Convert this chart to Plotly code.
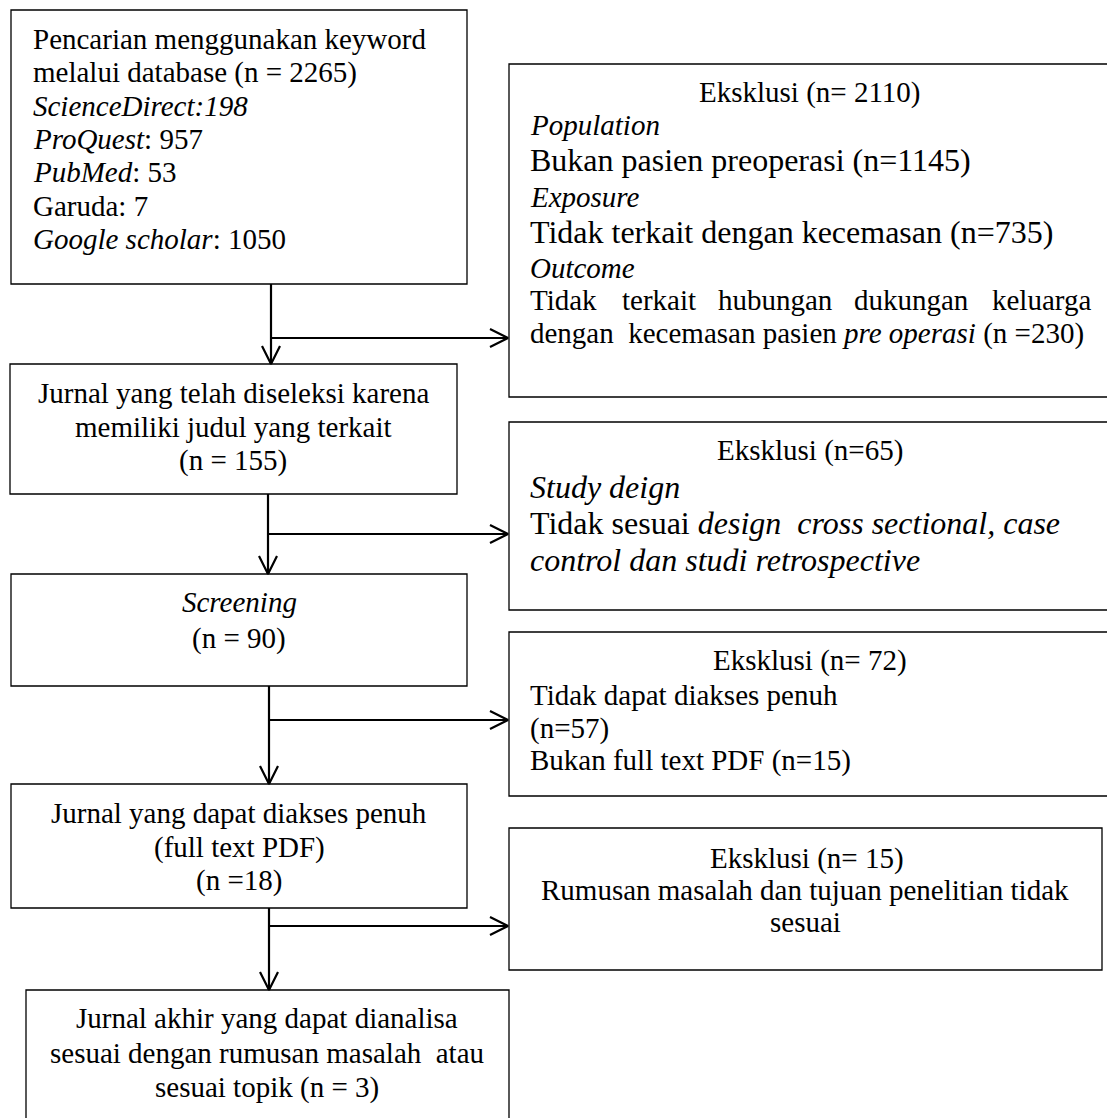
import plotly.graph_objects as go

# ---------------- data ----------------
sources = ["ScienceDirect", "ProQuest", "PubMed", "Garuda", "Google scholar"]
source_counts = [198, 957, 53, 7, 1050]
stage_counts = [2265, 155, 90, 18, 3]
excluded_counts = [2110, 65, 72, 15]
e1_categories = ["Population", "Exposure", "Outcome"]
e1_counts = [1145, 735, 230]
e3_counts = [57, 15]

# ---------------- texts built from the data ----------------
main_texts = [
    ["Pencarian menggunakan keyword",
     f"melalui database (n = {stage_counts[0]})",
     f"<i>{sources[0]}:{source_counts[0]}</i>",
     f"<i>{sources[1]}</i>: {source_counts[1]}",
     f"<i>{sources[2]}</i>: {source_counts[2]}",
     f"{sources[3]}: {source_counts[3]}",
     f"<i>{sources[4]}</i>: {source_counts[4]}"],
    ["Jurnal yang telah diseleksi karena",
     "memiliki judul yang terkait",
     f"(n = {stage_counts[1]})"],
    ["<i>Screening</i>", f"(n = {stage_counts[2]})"],
    ["Jurnal yang dapat diakses penuh", "(full text PDF)", f"(n ={stage_counts[3]})"],
    ["Jurnal akhir yang dapat dianalisa",
     "sesuai dengan rumusan masalah  atau",
     f"sesuai topik (n = {stage_counts[4]})"],
]

e1_texts = [
    f"Eksklusi (n= {excluded_counts[0]})",
    f"<i>{e1_categories[0]}</i>",
    f"Bukan pasien preoperasi (n={e1_counts[0]})",
    f"<i>{e1_categories[1]}</i>",
    f"Tidak terkait dengan kecemasan (n={e1_counts[1]})",
    f"<i>{e1_categories[2]}</i>",
]
e1_justified_words = ["Tidak", "terkait", "hubungan", "dukungan", "keluarga"]
e1_last = f"dengan  kecemasan pasien <i>pre operasi</i> (n ={e1_counts[2]})"

e2_texts = [
    f"Eksklusi (n={excluded_counts[1]})",
    "<i>Study deign</i>",
    "Tidak sesuai <i>design  cross sectional, case</i>",
    "<i>control dan studi retrospective</i>",
]
e3_texts = [
    f"Eksklusi (n= {excluded_counts[2]})",
    "Tidak dapat diakses penuh",
    f"(n={e3_counts[0]})",
    f"Bukan full text PDF (n={e3_counts[1]})",
]
e4_texts = [
    f"Eksklusi (n= {excluded_counts[3]})",
    "Rumusan masalah dan tujuan penelitian tidak",
    "sesuai",
]

# ---------------- layout geometry (pixels) ----------------
W, H = 1107, 1118
FONT = "Liberation Serif, Times New Roman, serif"
INK = "#000000"

main_boxes = [(11, 467, 10, 284), (10, 457, 364, 494), (11, 467, 574, 686),
              (11, 467, 784, 908), (26, 509, 990, 1125)]
excl_boxes = [(509, 1115, 64, 397), (509, 1115, 422, 610),
              (509, 1115, 632, 796), (509, 1102, 828, 970)]

main_line_y = [
    [39, 72, 106, 139, 172, 206, 239],
    [393, 427, 460],
    [602, 638],
    [813, 847, 880],
    [1018, 1053, 1087],
]
main_line_x = [31, 233, 239, 239, 267]
main_anchor = ["left", "center", "center", "center", "center"]

# arrows: (x of vertical, y start, y end (box top), y of branch)
arrow_x = [271, 268, 269, 269]
arrow_y0 = [284, 494, 686, 908]
arrow_y1 = [364, 574, 784, 990]
branch_y = [338, 534, 720, 926]
tip_x = 508

fig = go.Figure()

# boxes
for (x0, x1, y0, y1) in main_boxes + excl_boxes:
    fig.add_shape(type="rect", x0=x0, x1=x1, y0=y0, y1=y1, xref="x", yref="y",
                  line=dict(color=INK, width=1.3), fillcolor="rgba(0,0,0,0)")

# arrows
xs, ys = [], []
HS = 9   # half spread of arrow head
HL = 18  # arrow head length
for ax, a0, a1, by in zip(arrow_x, arrow_y0, arrow_y1, branch_y):
    xs += [ax, ax, None]; ys += [a0, a1, None]
    xs += [ax - HS, ax, ax + HS, None]; ys += [a1 - HL, a1, a1 - HL, None]
    xs += [ax, tip_x, None]; ys += [by, by, None]
    xs += [tip_x - HL, tip_x, tip_x - HL, None]; ys += [by - HS, by, by + HS, None]
fig.add_trace(go.Scatter(x=xs, y=ys, mode="lines",
                         line=dict(color=INK, width=2.2), hoverinfo="skip",
                         showlegend=False))


def txt(text, x, y, size=29, anchor="left"):
    fig.add_annotation(x=x, y=y, xref="x", yref="y", text=text, showarrow=False,
                       xanchor=anchor, yanchor="middle",
                       font=dict(family=FONT, size=size, color=INK))


for lines, ys_, x, anc in zip(main_texts, main_line_y, main_line_x, main_anchor):
    for t, y in zip(lines, ys_):
        txt(t, x, y, 29, anc)

# E1
LX = 528
txt(e1_texts[0], 810, 92, 29, "center")
txt(e1_texts[1], LX, 125, 29)
txt(e1_texts[2], LX, 160, 32)
txt(e1_texts[3], LX, 197, 29)
txt(e1_texts[4], LX, 232, 32)
txt(e1_texts[5], LX, 268, 29)
word_x = [528, 620, 716, 852, 990]
for w, wx in zip(e1_justified_words, word_x):
    txt(w, wx, 300, 29)
txt(e1_last, LX, 333, 29)

# E2
txt(e2_texts[0], 810, 450, 29, "center")
txt(e2_texts[1], LX, 487, 32)
txt(e2_texts[2], LX, 523, 32)
txt(e2_texts[3], LX, 560, 32)

# E3
txt(e3_texts[0], 810, 660, 29, "center")
txt(e3_texts[1], LX, 695, 29)
txt(e3_texts[2], LX, 728, 29)
txt(e3_texts[3], LX, 760, 29)

# E4
txt(e4_texts[0], 807, 858, 29, "center")
txt(e4_texts[1], 805, 890, 29, "center")
txt(e4_texts[2], 805, 922, 29, "center")

fig.update_layout(
    width=W, height=H,
    margin=dict(l=0, r=0, t=0, b=0),
    paper_bgcolor="white", plot_bgcolor="white",
    xaxis=dict(range=[0, W], visible=False, fixedrange=True),
    yaxis=dict(range=[H, 0], visible=False, fixedrange=True),
    showlegend=False,
)

fig.write_html("out.html", config={"displayModeBar": False},
               post_script="document.body.style.margin='0px';"
                           "document.body.style.overflow='hidden';")
